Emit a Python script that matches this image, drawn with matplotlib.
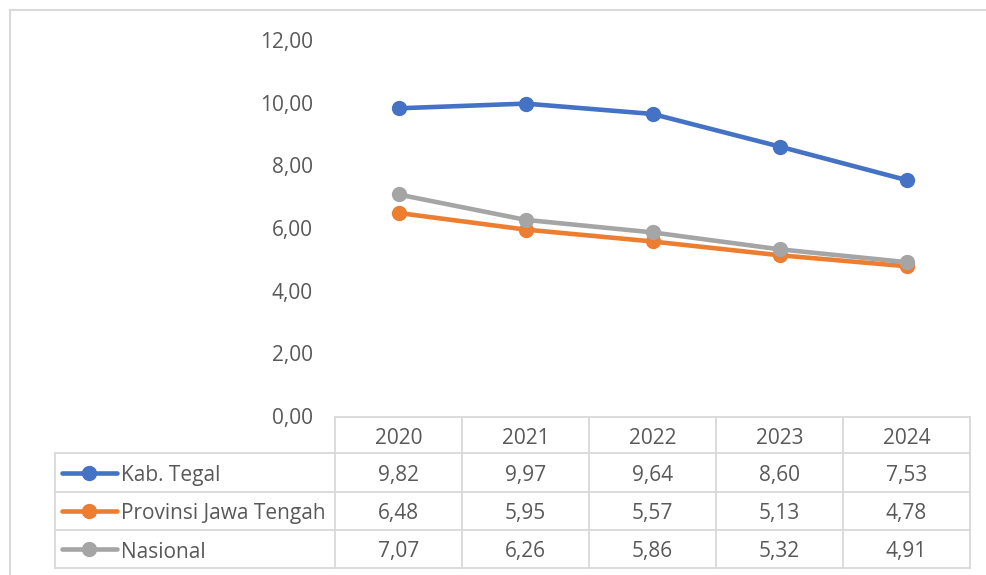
import matplotlib.pyplot as plt
from matplotlib.lines import Line2D
import matplotlib.transforms as mtransforms

years = ["2020", "2021", "2022", "2023", "2024"]
series_names = ["Kab. Tegal", "Provinsi Jawa Tengah", "Nasional"]
kab_tegal = [9.82, 9.97, 9.64, 8.60, 7.53]
jawa_tengah = [6.48, 5.95, 5.57, 5.13, 4.78]
nasional = [7.07, 6.26, 5.86, 5.32, 4.91]
colors = ["#4472C4", "#ED7D31", "#A5A5A5"]

W, H = 986, 575
TEXT = "#595959"
GRID = "#D9D9D9"
FS = 15
plt.rcParams["font.family"] = ["Open Sans", "DejaVu Sans"]


def fmt(v):
    return f"{v:.2f}".replace(".", ",")


def fy(py):
    # pixel row -> figure fraction
    return 1 - py / H


fig = plt.figure(figsize=(W / 100, H / 100), dpi=100)
ax = fig.add_axes([335 / W, fy(416), (970 - 335) / W, (416 - 40) / H])

x = list(range(len(years)))
all_series = [kab_tegal, jawa_tengah, nasional]
for vals, c in zip(all_series, colors):
    ax.plot(x, vals, color=c, lw=3.3, marker="o", ms=10, solid_capstyle="round")

ax.set_xlim(-0.5, len(years) - 0.5)
ax.set_ylim(0, 12)
ax.set_yticks(range(0, 13, 2))
ax.set_yticklabels([fmt(v) for v in range(0, 13, 2)])
ax.set_xticks([])
ax.tick_params(axis="y", length=0, pad=16, labelsize=FS, labelcolor=TEXT)
for s in ax.spines.values():
    s.set_visible(False)

# chart frame (top and left only visible)
fig.add_artist(Line2D([10 / W, 985 / W], [fy(10), fy(10)], color=GRID, lw=1.5))
fig.add_artist(Line2D([10 / W, 10 / W], [fy(10), fy(575)], color=GRID, lw=1.5))

# data table: x in data coords, y in figure fraction
tr = mtransforms.blended_transform_factory(ax.transData, fig.transFigure)
rows = [417, 453, 492, 530, 568]
left = -0.5
right = len(years) - 0.5
lw = 1.3
dy = 3  # text sits a little below row centre

# horizontal lines
ax.add_line(Line2D([left, right], [fy(rows[0])] * 2, transform=tr, color=GRID, lw=lw, clip_on=False))
for r in rows[1:]:
    fig.add_artist(Line2D([55 / W, 335 / W], [fy(r)] * 2, color=GRID, lw=lw))
    ax.add_line(Line2D([left, right], [fy(r)] * 2, transform=tr, color=GRID, lw=lw, clip_on=False))
# vertical lines
for i in range(len(years) + 1):
    ax.add_line(Line2D([i - 0.5] * 2, [fy(rows[0]), fy(rows[-1])], transform=tr,
                       color=GRID, lw=lw, clip_on=False))
fig.add_artist(Line2D([55 / W] * 2, [fy(rows[1]), fy(rows[-1])], color=GRID, lw=lw))

# header
for i, yr in enumerate(years):
    ax.text(i, fy((rows[0] + rows[1]) / 2 + dy), yr, transform=tr, ha="center", va="center",
            fontsize=FS, color=TEXT)

# body
for k, (name, vals, c) in enumerate(zip(series_names, all_series, colors)):
    yc = fy((rows[k + 1] + rows[k + 2]) / 2)
    yt = fy((rows[k + 1] + rows[k + 2]) / 2 + dy)
    fig.add_artist(Line2D([62 / W, 117 / W], [yc, yc], color=c, lw=3.3, solid_capstyle="round"))
    fig.add_artist(Line2D([89 / W], [yc], color=c, marker="o", ms=10, lw=0))
    fig.text(121 / W, yt, name, ha="left", va="center", fontsize=FS, color=TEXT)
    for i, v in enumerate(vals):
        ax.text(i, yt, fmt(v), transform=tr, ha="center", va="center", fontsize=FS, color=TEXT)

fig.savefig("out.png", dpi=100)
